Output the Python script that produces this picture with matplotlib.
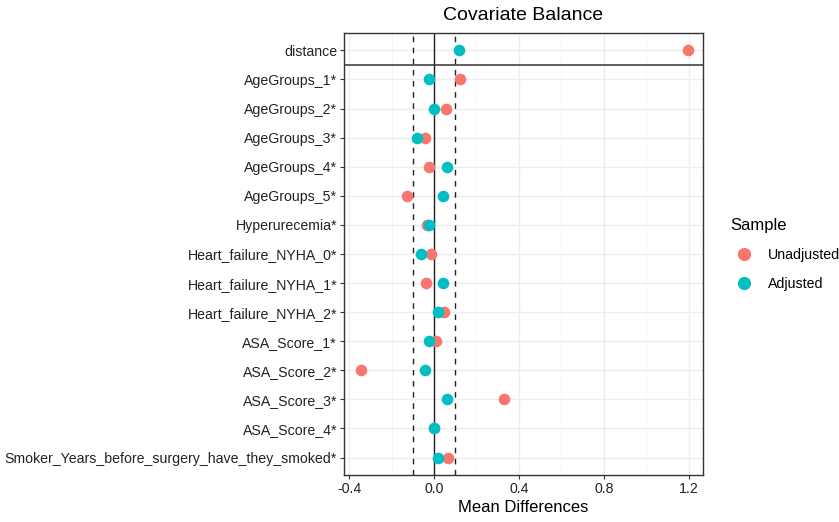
import matplotlib.pyplot as plt
from matplotlib.lines import Line2D

plt.rcParams['font.family'] = ['Liberation Sans', 'DejaVu Sans']

# covariate names, top to bottom
covariates = ['distance', 'AgeGroups_1*', 'AgeGroups_2*', 'AgeGroups_3*', 'AgeGroups_4*',
              'AgeGroups_5*', 'Hyperurecemia*', 'Heart_failure_NYHA_0*', 'Heart_failure_NYHA_1*',
              'Heart_failure_NYHA_2*', 'ASA_Score_1*', 'ASA_Score_2*', 'ASA_Score_3*',
              'ASA_Score_4*', 'Smoker_Years_before_surgery_have_they_smoked*']

# mean differences
unadjusted = [1.194, 0.122, 0.056, -0.041, -0.022, -0.125, -0.035, -0.014, -0.036,
              0.049, 0.009, -0.343, 0.328, 0.0, 0.067]
adjusted = [0.119, -0.023, 0.0, -0.082, 0.060, 0.041, -0.022, -0.063, 0.041,
            0.019, -0.022, -0.041, 0.060, 0.002, 0.019]

xticks = [-0.4, 0.0, 0.4, 0.8, 1.2]
minor_xticks = [-0.2, 0.2, 0.6, 1.0]
threshold = 0.1

col_un = '#F8766D'
col_adj = '#00BFC4'

fig = plt.figure(figsize=(8.39, 5.22), dpi=100)
ax = fig.add_axes([0.410, 0.090, 0.428, 0.847])

rows = list(range(len(covariates)))

# grid
for x in xticks:
    ax.axvline(x, color='#EDEDED', lw=1.0, zorder=0)
for x in minor_xticks:
    ax.axvline(x, color='#F4F4F4', lw=0.6, zorder=0)
for r in rows:
    ax.axhline(r, color='#EDEDED', lw=1.0, zorder=0)

# reference lines
ax.axvline(0, color='#222222', lw=1.0, zorder=1)
ax.axvline(-threshold, color='#222222', lw=1.0, ls=(0, (4, 4)), zorder=1)
ax.axvline(threshold, color='#222222', lw=1.0, ls=(0, (4, 4)), zorder=1)
ax.axhline(0.5, color='#333333', lw=1.1, zorder=1)

ax.scatter(unadjusted, rows, s=70, color=col_un, zorder=3, linewidths=0)
ax.scatter(adjusted, rows, s=70, color=col_adj, zorder=4, linewidths=0)

ax.set_xlim(-0.424, 1.267)
ax.set_ylim(len(covariates) - 0.4, -0.6)
ax.set_yticks(rows)
ax.set_yticklabels(covariates, fontsize=10.2, color='#222222')
ax.set_xticks(xticks)
ax.set_xticklabels(['-0.4', '0.0', '0.4', '0.8', '1.2'], fontsize=10.2, color='#222222')
ax.tick_params(length=3, width=0.8, color='#333333', pad=2)
for s in ax.spines.values():
    s.set_color('#333333')
    s.set_linewidth(1.0)

ax.set_xlabel('Mean Differences', fontsize=12, labelpad=3)
ax.set_title('Covariate Balance', fontsize=14, pad=9)

handles = [Line2D([], [], marker='o', ls='', color=col_un, markersize=8.5),
           Line2D([], [], marker='o', ls='', color=col_adj, markersize=8.5)]
leg = fig.legend(handles, ['Unadjusted', 'Adjusted'], title='Sample',
                 loc='upper left', bbox_to_anchor=(0.855, 0.607), frameon=False,
                 fontsize=10.2, title_fontsize=12, handletextpad=0.7, labelspacing=1.05)
leg._legend_box.align = 'left'

fig.savefig('out.png', dpi=100)
